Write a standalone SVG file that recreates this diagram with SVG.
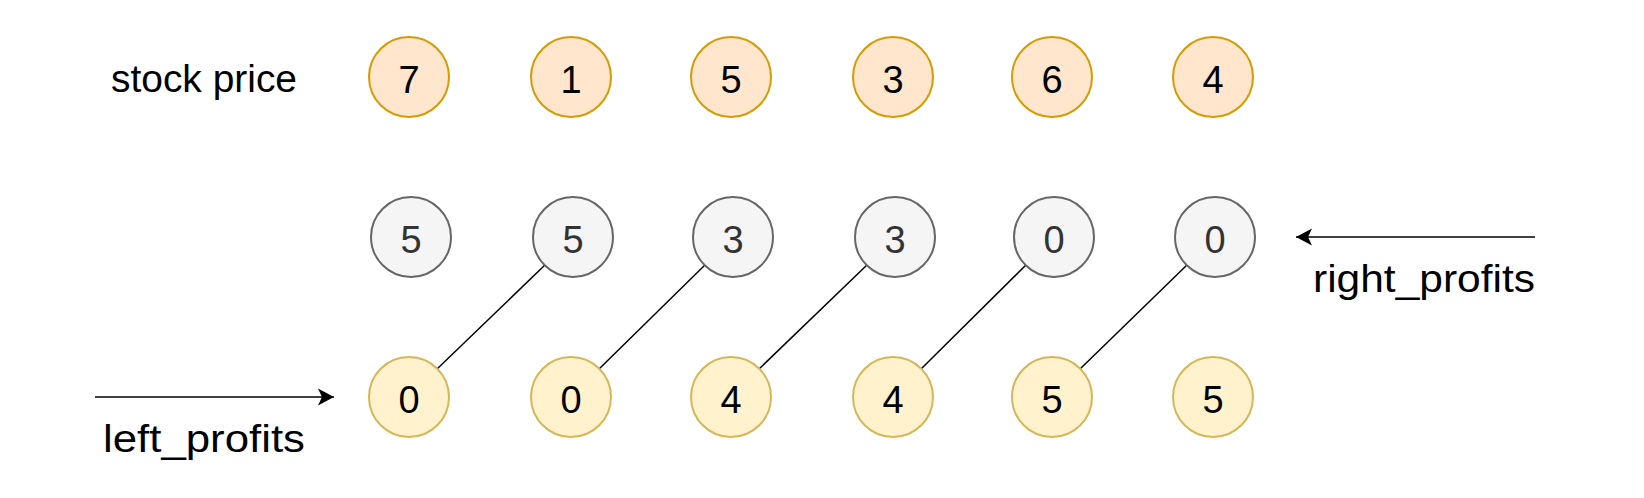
<svg xmlns="http://www.w3.org/2000/svg" width="1644" height="498" viewBox="0 0 1644 498">
<style>
.t{font-family:"Comic Sans MS","Liberation Sans",sans-serif;font-size:38px;fill:#000;text-anchor:middle}
.price{fill:#ffe6cc;stroke:#d79b00;stroke-width:2}
.right{fill:#f5f5f5;stroke:#666666;stroke-width:2}
.left{fill:#fff2cc;stroke:#d6b656;stroke-width:2}
.gt{fill:#333333}
.edge{stroke:#000;stroke-width:1.5;fill:none}
</style>
<defs>
<marker id="arr" markerUnits="userSpaceOnUse" markerWidth="20" markerHeight="20" refX="16" refY="8.5" orient="auto" viewBox="0 0 20 17">
<path d="M16 8.5 L0 0 L4 8.5 L0 17 Z" fill="#000"/>
</marker>
</defs>
<rect width="1644" height="498" fill="#fff"/>
<g id="labels">
<text class="t" x="204" y="92" textLength="186" lengthAdjust="spacingAndGlyphs">stock price</text>
<text class="t" x="204" y="452" textLength="202" lengthAdjust="spacingAndGlyphs">left_profits</text>
<text class="t" x="1424" y="292" textLength="222" lengthAdjust="spacingAndGlyphs">right_profits</text>
</g>
<g id="connectors">
<line class="edge" x1="544.7" y1="265.3" x2="437.3" y2="368.7"/>
<line class="edge" x1="704.7" y1="265.3" x2="599.3" y2="368.7"/>
<line class="edge" x1="866.7" y1="265.3" x2="759.3" y2="368.7"/>
<line class="edge" x1="1025.7" y1="265.3" x2="921.3" y2="368.7"/>
<line class="edge" x1="1186.7" y1="265.3" x2="1080.3" y2="368.7"/>
<line class="edge" x1="95" y1="397" x2="334" y2="397" marker-end="url(#arr)"/>
<line class="edge" x1="1535" y1="237" x2="1296" y2="237" marker-end="url(#arr)"/>
</g>
<g id="p0"><circle class="price" cx="409" cy="77" r="40"/><text class="t" x="409" y="93">7</text></g>
<g id="p1"><circle class="price" cx="571" cy="77" r="40"/><text class="t" x="571" y="93">1</text></g>
<g id="p2"><circle class="price" cx="731" cy="77" r="40"/><text class="t" x="731" y="93">5</text></g>
<g id="p3"><circle class="price" cx="893" cy="77" r="40"/><text class="t" x="893" y="93">3</text></g>
<g id="p4"><circle class="price" cx="1052" cy="77" r="40"/><text class="t" x="1052" y="93">6</text></g>
<g id="p5"><circle class="price" cx="1213" cy="77" r="40"/><text class="t" x="1213" y="93">4</text></g>
<g id="r0"><circle class="right" cx="411" cy="237" r="40"/><text class="t gt" x="411" y="253">5</text></g>
<g id="r1"><circle class="right" cx="573" cy="237" r="40"/><text class="t gt" x="573" y="253">5</text></g>
<g id="r2"><circle class="right" cx="733" cy="237" r="40"/><text class="t gt" x="733" y="253">3</text></g>
<g id="r3"><circle class="right" cx="895" cy="237" r="40"/><text class="t gt" x="895" y="253">3</text></g>
<g id="r4"><circle class="right" cx="1054" cy="237" r="40"/><text class="t gt" x="1054" y="253">0</text></g>
<g id="r5"><circle class="right" cx="1215" cy="237" r="40"/><text class="t gt" x="1215" y="253">0</text></g>
<g id="l0"><circle class="left" cx="409" cy="397" r="40"/><text class="t" x="409" y="413">0</text></g>
<g id="l1"><circle class="left" cx="571" cy="397" r="40"/><text class="t" x="571" y="413">0</text></g>
<g id="l2"><circle class="left" cx="731" cy="397" r="40"/><text class="t" x="731" y="413">4</text></g>
<g id="l3"><circle class="left" cx="893" cy="397" r="40"/><text class="t" x="893" y="413">4</text></g>
<g id="l4"><circle class="left" cx="1052" cy="397" r="40"/><text class="t" x="1052" y="413">5</text></g>
<g id="l5"><circle class="left" cx="1213" cy="397" r="40"/><text class="t" x="1213" y="413">5</text></g>
</svg>
